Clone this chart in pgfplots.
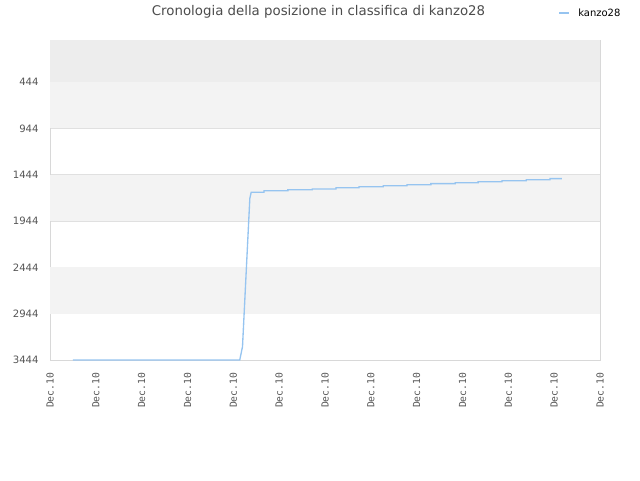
\documentclass[border=0pt]{standalone}
\usepackage{fontspec}
\setmainfont{DejaVu Sans}
\newfontfamily\monofont{DejaVu Sans Mono}
\usepackage{pgfplots}
\pgfplotsset{compat=1.18}

\definecolor{linecol}{RGB}{150,196,240}
\definecolor{bandA}{RGB}{237,237,237}
\definecolor{bandB}{RGB}{243,243,243}
\definecolor{gridcol}{RGB}{224,224,224}
\definecolor{framecol}{RGB}{216,216,216}
\definecolor{txtcol}{RGB}{85,85,85}

\begin{document}
\begin{tikzpicture}
\path[use as bounding box] (0,0) rectangle (480pt,360pt);
\begin{axis}[
  at={(37.5pt,90pt)}, anchor=south west,
  scale only axis, width=412.5pt, height=240pt,
  xmin=0, xmax=12, ymin=-9, ymax=3444,
  y dir=reverse,
  ytick={444,944,1444,1944,2444,2944,3444},
  xtick={0,1,...,12},
  xticklabels={Dec.10,Dec.10,Dec.10,Dec.10,Dec.10,Dec.10,Dec.10,Dec.10,Dec.10,Dec.10,Dec.10,Dec.10,Dec.10},
  xticklabel shift=6pt,
  yticklabel shift=5pt,
  x tick label style={rotate=90, anchor=east, font=\monofont\fontsize{7.3}{8}\selectfont, text=txtcol},
  y tick label style={font=\fontsize{7.6}{8}\selectfont, text=txtcol},
  /pgf/number format/assume math mode=true,
  /pgf/number format/1000 sep={},
  major tick length=0pt,
  ymajorgrids, major grid style={gridcol, line width=0.6pt},
  axis line style={framecol, line width=0.6pt},
  clip=true,
]
\fill[bandA] (axis cs:0,-9) rectangle (axis cs:12,444);
\fill[bandB] (axis cs:0,444) rectangle (axis cs:12,944);
\fill[bandB] (axis cs:0,1444) rectangle (axis cs:12,1944);
\fill[bandB] (axis cs:0,2444) rectangle (axis cs:12,2944);
\addplot[linecol, line width=1pt, no marks] coordinates {
 (0.50,3444) (4.14,3444) (4.20,3300) (4.36,1700) (4.39,1634) (4.67,1634)
 (4.67,1617) (5.19,1617) (5.19,1607) (5.72,1607) (5.72,1598) (6.24,1598)
 (6.24,1585) (6.74,1585) (6.74,1574) (7.27,1574) (7.27,1563) (7.79,1563)
 (7.79,1552) (8.31,1552) (8.31,1541) (8.84,1541) (8.84,1531) (9.34,1531)
 (9.34,1520) (9.86,1520) (9.86,1509) (10.39,1509) (10.39,1498) (10.91,1498)
 (10.91,1487) (11.17,1487)
};
\end{axis}
\node[text=txtcol!90!black, font=\fontsize{10}{12}\selectfont] at (238.9pt,351pt) {Cronologia della posizione in classifica di kanzo28};
\draw[linecol, line width=1pt] (419.5pt,350.2pt) -- (427pt,350.2pt);
\node[anchor=west, font=\fontsize{7.5}{9}\selectfont, text=black, inner sep=0pt] at (433.5pt,350.5pt) {kanzo28};
\end{tikzpicture}
\end{document}
